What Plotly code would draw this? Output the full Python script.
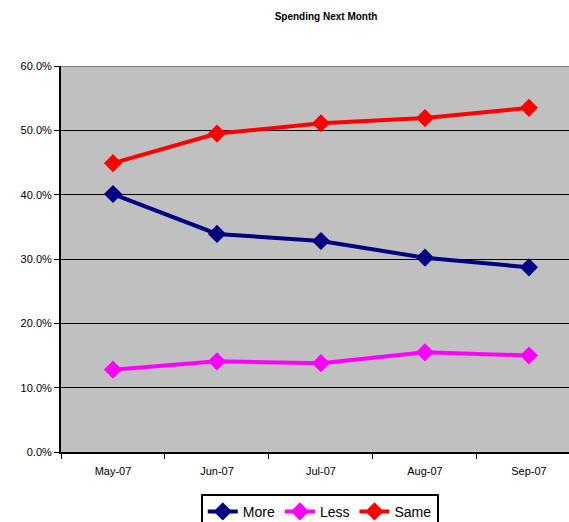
import plotly.graph_objects as go

months = ["May-07", "Jun-07", "Jul-07", "Aug-07", "Sep-07"]
more = [0.401, 0.339, 0.328, 0.302, 0.287]
less = [0.128, 0.141, 0.138, 0.155, 0.150]
same = [0.449, 0.495, 0.511, 0.519, 0.535]

fig = go.Figure()
for name, vals, col in [("More", more, "#000080"), ("Less", less, "#FF00FF"), ("Same", same, "#FF0000")]:
    fig.add_trace(go.Scatter(
        x=months, y=vals, name=name, mode="lines+markers",
        line=dict(color=col, width=4),
        marker=dict(symbol="diamond", size=14, color=col),
    ))

fig.update_layout(
    width=569, height=522,
    margin=dict(l=61, r=0, t=66, b=70),
    paper_bgcolor="white",
    plot_bgcolor="#C0C0C0",
    font=dict(family="Arial, Liberation Sans", color="black", size=11),
    title=dict(text="<b>Spending Next Month</b>", x=0.573, xanchor="center",
               y=0.969, yanchor="middle", font=dict(size=10)),
    showlegend=True,
    legend=dict(orientation="h", xref="container", yref="container",
                x=0.562, xanchor="center", y=0.054, yanchor="top",
                bgcolor="white", bordercolor="black", borderwidth=2,
                font=dict(size=14), itemwidth=30, tracegroupgap=0),
)
fig.update_xaxes(
    range=[-0.5, 4.385], showgrid=False, showline=True, linecolor="black", linewidth=2,
    ticks="outside", tickson="boundaries", ticklen=5, tickcolor="black",
    tickfont=dict(size=11), ticklabelstandoff=8,
)
fig.update_yaxes(
    range=[0, 0.6], dtick=0.1, tickformat=".1%", showgrid=True, gridcolor="black",
    gridwidth=1, showline=True, linecolor="black", linewidth=2,
    ticks="outside", ticklen=5, tickcolor="black", zeroline=False,
    tickfont=dict(size=11),
)
fig.add_shape(type="line", xref="paper", yref="y", x0=0, x1=1, y0=0.6, y1=0.6,
              line=dict(color="#808080", width=2))

# drop the page margin so the figure fills the window
fig.write_html("out.html", config={"displayModeBar": False},
               post_script="document.body.style.margin='0';document.body.style.overflow='hidden';")
